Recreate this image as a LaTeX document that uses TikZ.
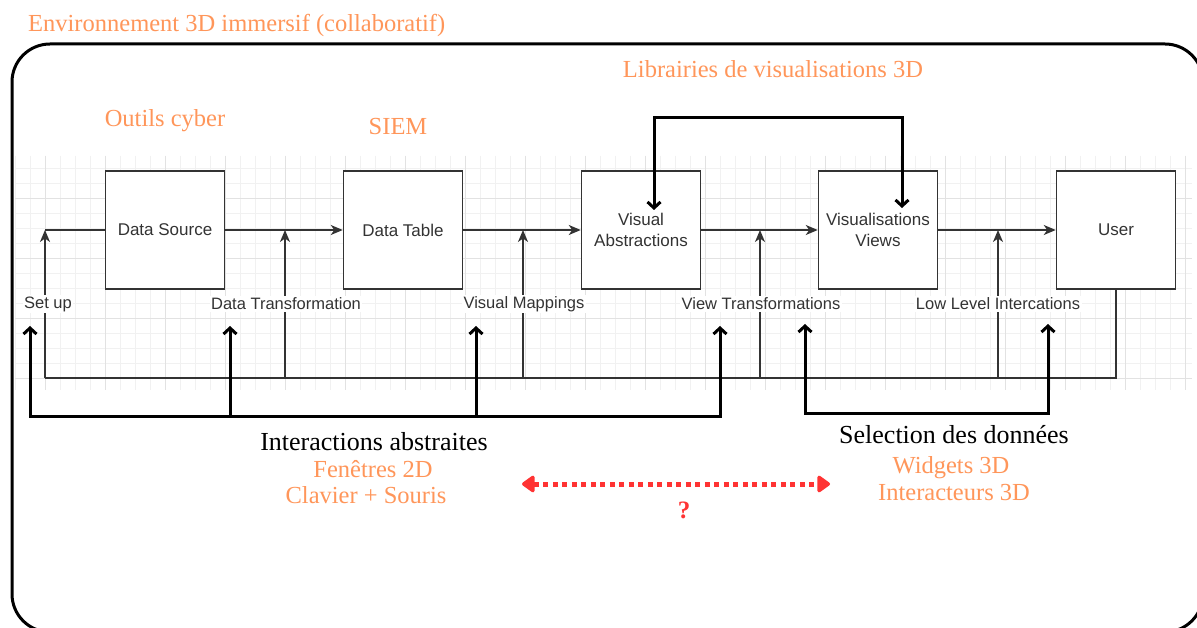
\documentclass[tikz,border=0pt]{standalone}
\usepackage{fontspec}
\setmainfont{Liberation Serif}
\setsansfont{Liberation Sans}
\usetikzlibrary{arrows.meta}
\definecolor{orng}{RGB}{255,150,90}
\definecolor{redarr}{RGB}{255,51,51}
\definecolor{boxc}{RGB}{51,51,51}
\definecolor{gminor}{RGB}{241,241,241}
\definecolor{gmajor}{RGB}{226,226,226}
\begin{document}
\begin{tikzpicture}[x=1pt,y=-1pt,
  box/.style={draw=boxc, line width=1.5pt, fill=white, minimum width=119pt, minimum height=118pt, inner sep=0pt, align=center, text=boxc, font=\sffamily\fontsize{17}{22}\selectfont},
  elabel/.style={fill=white, inner sep=1.5pt, text=boxc, font=\sffamily\fontsize{16.5}{20}\selectfont},
  otext/.style={text=orng, inner sep=0pt, font=\fontsize{24.5}{27}\selectfont},
  btext/.style={text=black, inner sep=0pt, font=\fontsize{26}{28}\selectfont},
  thinline/.style={draw=boxc, line width=1.5pt},
  thinarr/.style={thinline, -{Stealth[length=12pt,width=10pt,inset=3.5pt]}},
  thickline/.style={draw=black, line width=3pt},
  thickarr/.style={thickline, -{Straight Barb[length=6pt,width=13pt,line width=3pt]}},
  thickboth/.style={thickline, {Straight Barb[length=6pt,width=13pt,line width=3pt]}-{Straight Barb[length=6pt,width=13pt,line width=3pt]}},
  redline/.style={draw=redarr, line width=5pt, dash pattern=on 5pt off 4.5pt,
    {Triangle[length=14pt,width=19pt,round]}-{Triangle[length=14pt,width=19pt,round]}}
]
\useasboundingbox (0,0) rectangle (1197,628);
\clip (0,0) rectangle (1197,628);
\fill[white] (0,0) rectangle (1197,628);

% grid
\foreach \x in {15,30,...,1190} \draw[gminor, line width=0.8pt] (\x,156) -- (\x,390);
\foreach \y in {168,183,...,388} \draw[gminor, line width=0.8pt] (15,\y) -- (1192,\y);
\foreach \x in {45,105,...,1190} \draw[gmajor, line width=0.9pt] (\x,156) -- (\x,390);
\foreach \y in {198,258,318,378} \draw[gmajor, line width=0.9pt] (15,\y) -- (1192,\y);

% outer frame
\draw[line width=3pt, rounded corners=38pt] (12,44) rectangle (1203,632);

% coordinates
\coordinate (su) at (45,230);
\coordinate (b0) at (45,378);
\coordinate (ub) at (1116,378);
\coordinate (b1) at (285,378); \coordinate (t1) at (285,230);
\coordinate (b2) at (523,378); \coordinate (t2) at (523,230);
\coordinate (b3) at (760,378); \coordinate (t3) at (760,230);
\coordinate (b4) at (998,378); \coordinate (t4) at (998,230);

% boxes
\node[box] (ds) at (165,230) {Data Source};
\node[box] (dt) at (403,230) {Data Table};
\node[box] (va) at (641,230) {Visual\\[-1pt]Abstractions};
\node[box] (vv) at (878,230) {Visualisations\\[-1pt]Views};
\node[box] (us) at (1116,230) {User};

% thin connectors
\draw[thinline] (ds.west) -- (su);
\draw[thinarr] (ds.east) -- (dt.west);
\draw[thinarr] (dt.east) -- (va.west);
\draw[thinarr] (va.east) -- (vv.west);
\draw[thinarr] (vv.east) -- (us.west);
\draw[thinline] (us.south) -- (ub) -- (b0);
\draw[thinarr] (b0) -- (su);
\draw[thinarr] (b1) -- (t1);
\draw[thinarr] (b2) -- (t2);
\draw[thinarr] (b3) -- (t3);
\draw[thinarr] (b4) -- (t4);

% edge labels
\node[elabel] (l0) at (48,304) {Set up};
\node[elabel] (l1) at (286,304) {Data Transformation};
\node[elabel] (l2) at (524,304) {Visual Mappings};
\node[elabel] (l3) at (761,304) {View Transformations};
\node[elabel] (l4) at (998,304) {Low Level Intercations};

% thick brackets
\coordinate (k0) at (30,326); \coordinate (kb0) at (30,416);
\coordinate (k1) at (230,326); \coordinate (kb1) at (230,416);
\coordinate (k2) at (476,326); \coordinate (kb2) at (476,416);
\coordinate (k3) at (720,326); \coordinate (kb3) at (720,416);
\draw[thickboth] (k0) -- (kb0) -- (kb3) -- (k3);
\draw[thickarr] (kb1) -- (k1);
\draw[thickarr] (kb2) -- (k2);

\coordinate (k4) at (805,324); \coordinate (kb4) at (805,413);
\coordinate (k5) at (1048,324); \coordinate (kb5) at (1048,413);
\draw[thickboth] (k4) -- (kb4) -- (kb5) -- (k5);

% top connector
\coordinate (ta) at (654,210); \coordinate (tb) at (902,208);
\coordinate (tc) at (654,118); \coordinate (td) at (902,118);
\draw[thickboth] (ta) -- (tc) -- (td) -- (tb);

% texts
\node[otext, anchor=base west] (title) at (28,32) {Environnement 3D immersif (collaboratif)};
\node[otext, anchor=base] (cyber) at (165,127) {Outils cyber};
\node[otext, anchor=base] (siem) at (398,135) {SIEM};
\node[otext, anchor=base] (lib) at (773,78) {Librairies de visualisations 3D};
\node[btext, anchor=base] (inter) at (374,450) {Interactions abstraites};
\node[otext, anchor=base] (fen) at (373,477) {Fenêtres 2D};
\node[otext, anchor=base] (clav) at (366,503) {Clavier + Souris};
\node[btext, anchor=base] (sel) at (954,443) {Selection des données};
\node[otext, anchor=base] (wid) at (951,473) {Widgets 3D};
\node[otext, anchor=base] (iact) at (954,500) {Interacteurs 3D};

% red dotted double arrow
\coordinate (ra) at (522,484); \coordinate (rb) at (830,484);
\draw[redline] (ra) -- (rb);
\node[text=redarr, inner sep=0pt, anchor=base, font=\bfseries\fontsize{25}{27}\selectfont] (q) at (684,518) {?};
\end{tikzpicture}
\end{document}
